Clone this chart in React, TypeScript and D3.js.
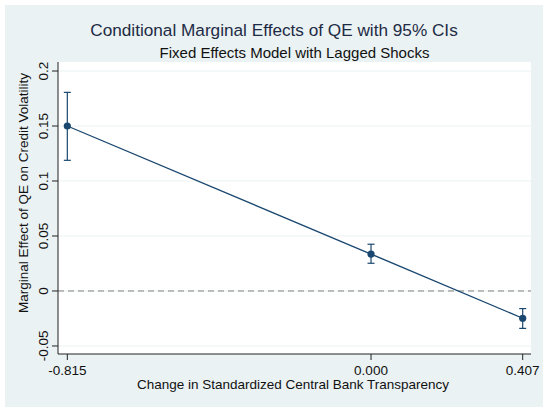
import React from 'react';
import * as d3 from 'd3';

// values
const transparency = [-0.815, 0.0, 0.407];
const effect = [0.15, 0.0336, -0.0248];
const ciLow = [0.1188, 0.0252, -0.034];
const ciHigh = [0.1806, 0.0425, -0.016];

const yTicks = [-0.05, 0, 0.05, 0.1, 0.15, 0.2];
const yTickLabels = ['-0.05', '0', '0.05', '0.1', '0.15', '0.2'];
const xTicks = [-0.815, 0.0, 0.407];
const xTickLabels = ['-0.815', '0.000', '0.407'];

const W = 550;
const H = 414;
const plot = { left: 58, right: 531, top: 62, bottom: 354 };

const navy = '#1a476f';
const font = '"Liberation Sans", Arial, sans-serif';

const App: React.FC = () => {
    const x = d3.scaleLinear().domain([-0.84, 0.4293]).range([plot.left, plot.right]);
    const y = d3.scaleLinear().domain([-0.0573, 0.2082]).range([plot.bottom, plot.top]);

    const line = d3.line<number>()
        .x((_, i) => x(transparency[i]))
        .y(d => y(d));

    const midX = (plot.left + plot.right) / 2;

    return (
        <svg width={W} height={H} style={{ position: 'absolute', left: 0, top: 0, display: 'block' }}
            fontFamily={font}>
            <rect x={0} y={0} width={W} height={H} fill="#ffffff" />
            <rect x={5} y={5} width={538} height={402} fill="#eaf2f3" />
            <rect x={plot.left} y={plot.top} width={plot.right - plot.left} height={plot.bottom - plot.top} fill="#ffffff" />

            {/* Titles */}
            <text x={274} y={36} textAnchor="middle" fontSize={17.2} fill="#1e2b45">
                Conditional Marginal Effects of QE with 95% CIs
            </text>
            <text x={midX} y={58} textAnchor="middle" fontSize={15} fill="#111">
                Fixed Effects Model with Lagged Shocks
            </text>

            {/* grid lines */}
            {yTicks.map(t => (
                <line key={`g${t}`} x1={plot.left} x2={plot.right} y1={y(t)} y2={y(t)}
                    stroke="#eaf2f3" strokeWidth={1} />
            ))}

            {/* zero reference line */}
            <line x1={plot.left} x2={plot.right} y1={y(0)} y2={y(0)}
                stroke="#7f7f7f" strokeWidth={1} strokeDasharray="6,4" />

            {/* axes */}
            <line x1={plot.left} x2={plot.left} y1={plot.top} y2={plot.bottom} stroke="#222" strokeWidth={1} />
            <line x1={plot.left} x2={plot.right} y1={plot.bottom} y2={plot.bottom} stroke="#222" strokeWidth={1} />

            {yTicks.map((t, i) => (
                <g key={`y${t}`}>
                    <line x1={plot.left - 6} x2={plot.left} y1={y(t)} y2={y(t)} stroke="#222" strokeWidth={1} />
                    <text transform={`translate(48,${y(t)}) rotate(-90)`} textAnchor="middle"
                        fontSize={13.5} fill="#111">{yTickLabels[i]}</text>
                </g>
            ))}
            {xTicks.map((t, i) => (
                <g key={`x${t}`}>
                    <line x1={x(t)} x2={x(t)} y1={plot.bottom} y2={plot.bottom + 6} stroke="#222" strokeWidth={1} />
                    <text x={x(t)} y={375} textAnchor="middle" fontSize={13.5} fill="#111">{xTickLabels[i]}</text>
                </g>
            ))}

            <text transform={`translate(28,193) rotate(-90)`} textAnchor="middle" fontSize={13.5} fill="#111">
                Marginal Effect of QE on Credit Volatility
            </text>
            <text x={293} y={389} textAnchor="middle" fontSize={13.5} fill="#111">
                Change in Standardized Central Bank Transparency
            </text>

            {/* confidence intervals */}
            {transparency.map((t, i) => (
                <g key={`ci${i}`} stroke={navy} strokeWidth={1.2}>
                    <line x1={x(t)} x2={x(t)} y1={y(ciLow[i])} y2={y(ciHigh[i])} />
                    <line x1={x(t) - 3.5} x2={x(t) + 3.5} y1={y(ciLow[i])} y2={y(ciLow[i])} />
                    <line x1={x(t) - 3.5} x2={x(t) + 3.5} y1={y(ciHigh[i])} y2={y(ciHigh[i])} />
                </g>
            ))}

            <path d={line(effect) ?? ''} fill="none" stroke={navy} strokeWidth={1.3} />

            {transparency.map((t, i) => (
                <circle key={`p${i}`} cx={x(t)} cy={y(effect[i])} r={3.6} fill={navy} />
            ))}
        </svg>
    );
};

export default App;
